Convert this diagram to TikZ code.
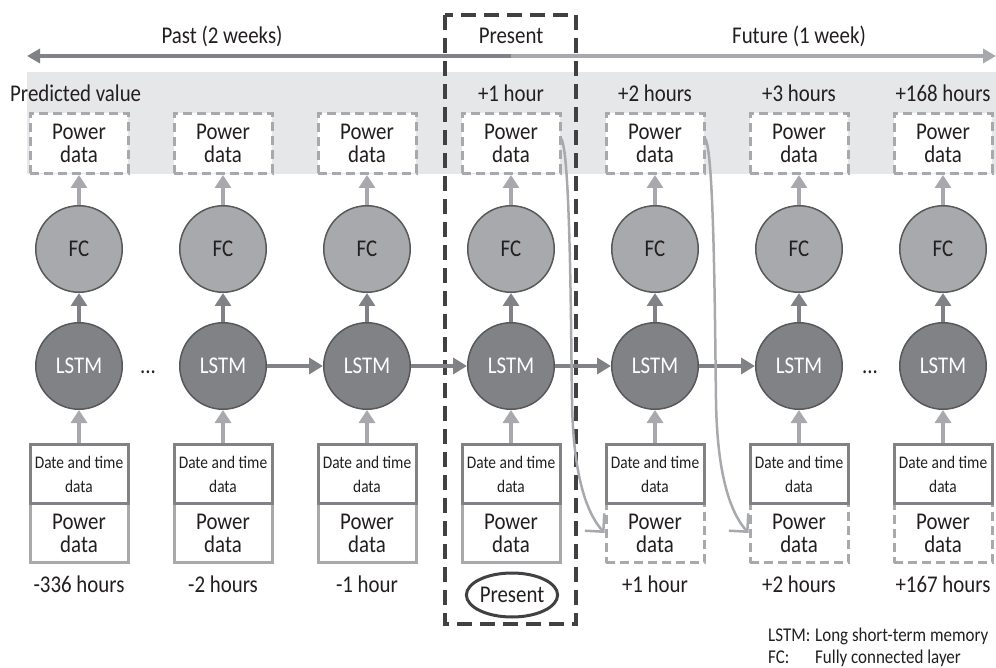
\documentclass[tikz,border=0pt]{standalone}
\usepackage{fontspec}
\setmainfont{Carlito}[FakeStretch=0.87]
\usetikzlibrary{arrows.meta,shapes.geometric,calc}
\definecolor{txt}{HTML}{231F20}
\definecolor{dk}{HTML}{414042}
\definecolor{mid}{HTML}{808285}
\definecolor{lt}{HTML}{A7A9AC}
\definecolor{rim}{HTML}{58595B}
\definecolor{band}{HTML}{E6E7E8}
\newcommand\fbig{\fontsize{24}{23}\selectfont}
\newcommand\fsmall{\fontsize{17.7}{24}\selectfont}
\newcommand\fleg{\fontsize{19.5}{22}\selectfont}
\tikzset{
 pdtop/.style={draw=lt, line width=3pt, dash pattern=on 9pt off 5pt, fill=white, minimum width=98pt, minimum height=60pt, inner sep=0pt, align=center, font=\fbig, text=txt},
 fcnode/.style={circle, draw=rim, line width=1.5pt, fill=lt, minimum size=86.5pt, inner sep=0pt, font=\fbig, text=txt},
 lstmnode/.style={circle, draw=rim, line width=1.5pt, fill=mid, minimum size=86.5pt, inner sep=0pt, font=\fbig, text=white},
 datebox/.style={draw=mid, line width=3pt, fill=white, minimum width=98pt, minimum height=59pt, inner sep=0pt, align=center, font=\fsmall, text=txt},
 powbox/.style={draw=lt, line width=3pt, fill=white, minimum width=98pt, minimum height=59pt, inner sep=0pt, align=center, font=\fbig, text=txt},
 powboxf/.style={powbox, dash pattern=on 9pt off 5pt},
 lbl/.style={font=\fbig, text=txt, inner sep=0pt},
 legtxt/.style={font=\fleg, text=txt, inner sep=0pt, anchor=base west},
 uplt/.style={draw=lt, line width=4pt, -{Triangle[length=13pt,width=16pt]}},
 updk/.style={draw=mid, line width=4pt, -{Triangle[length=13pt,width=16pt]}},
 rarrow/.style={draw=mid, line width=4.5pt, -{Triangle[length=14pt,width=16pt]}},
 feed/.style={draw=lt, line width=2.5pt, -{Straight Barb[length=13pt,width=26pt]}},
 presentbox/.style={draw=dk, line width=4pt, dash pattern=on 15pt off 8pt},
 timeline/.style={line width=3.5pt, -{Triangle[length=13pt,width=14pt]}},
}
\begin{document}
\begin{tikzpicture}[x=1pt,y=-1pt]
\useasboundingbox (0,0) rectangle (996,668);
% band
\fill[band] (27,72) rectangle (996,174);
% timeline
\coordinate (tmid) at (511,56);
\coordinate (tleft) at (27,56);
\coordinate (tright) at (996,56);
\draw[timeline, mid] (tmid) -- (tleft);
\draw[timeline, lt] (tmid) -- (tright);
\node[lbl, anchor=base] (past) at (222,44) {Past (2 weeks)};
\node[lbl, anchor=base] (presl) at (511,44) {Present};
\node[lbl, anchor=base] (fut) at (799,44) {Future (1 week)};
% top labels
\node[lbl, anchor=base west] (predv) at (10,102) {Predicted value};
\node[lbl, anchor=base] (h1) at (511,102) {+1 hour};
\node[lbl, anchor=base] (h2) at (655,102) {+2 hours};
\node[lbl, anchor=base] (h3) at (799,102) {+3 hours};
\node[lbl, anchor=base] (h168) at (943,102) {+168 hours};
% present frame
\draw[presentbox] (445,15) rectangle (576,624);
% columns
\foreach \i/\x in {0/79,1/223,2/367,3/511,4/655,5/799,6/943}{
  \node[pdtop] (pt\i) at (\x,143.5) {Power\\data};
  \node[fcnode] (fc\i) at (\x,249) {FC};
  \node[lstmnode] (lstm\i) at (\x,366) {LSTM};
}
\foreach \i/\x in {0/79,1/223,2/367,3/511}{
  \node[powbox] (pb\i) at (\x,533) {Power\\data};
}
\foreach \i/\x in {4/655,5/799,6/943}{
  \node[powboxf] (pb\i) at (\x,533) {Power\\data};
}
\foreach \i/\x in {0/79,1/223,2/367,3/511,4/655,5/799,6/943}{
  \node[datebox] (db\i) at (\x,474) {Date and time\\data};
  \draw[updk] (lstm\i) -- (fc\i);
  \draw[uplt] (fc\i) -- (pt\i);
  \draw[uplt] (db\i) -- (lstm\i);
}
% horizontal LSTM arrows
\draw[rarrow] (lstm1) -- (lstm2);
\draw[rarrow] (lstm2) -- (lstm3);
\draw[rarrow] (lstm3) -- (lstm4);
\draw[rarrow] (lstm4) -- (lstm5);
\node[lbl, anchor=base] (dots1) at (148,373) {...};
\node[lbl, anchor=base] (dots2) at (870,373) {...};
% bottom labels
\node[lbl, anchor=base] (b0) at (79,592) {-336 hours};
\node[lbl, anchor=base] (b1) at (223,592) {-2 hours};
\node[lbl, anchor=base] (b2) at (367,592) {-1 hour};
\node[lbl, anchor=base] (b4) at (655,592) {+1 hour};
\node[lbl, anchor=base] (b5) at (799,592) {+2 hours};
\node[lbl, anchor=base] (b6) at (943,592) {+167 hours};
\node[ellipse, draw=dk, line width=3pt, minimum width=74pt, minimum height=44pt, inner sep=0pt, font=\fbig, text=txt] (pres) at (512,595) {Present};
% feedback curves
\coordinate (m3) at (572,400);
\coordinate (m4) at (716,400);
\draw[feed] ([shift={(-1,-5)}]pt3.east) .. controls +(10,2) and +(-1,-60) .. (m3) .. controls +(1,75) and +(-18,-20) .. (pb4.west);
\draw[feed] ([shift={(-1,-5)}]pt4.east) .. controls +(10,2) and +(-1,-60) .. (m4) .. controls +(1,75) and +(-18,-20) .. (pb5.west);
% legend
\node[legtxt] (l1) at (768,641) {LSTM:};
\node[legtxt] (l2) at (815,641) {Long short-term memory};
\node[legtxt] (l3) at (768,663) {FC:};
\node[legtxt] (l4) at (815,663) {Fully connected layer};
\end{tikzpicture}
\end{document}
